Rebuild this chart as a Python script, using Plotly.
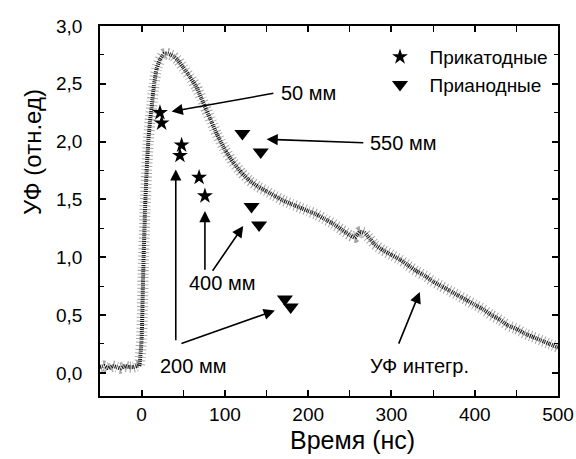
import plotly.graph_objects as go

# ---- data ----
t_curve = [-50, -45, -40, -35, -30, -25, -20, -15, -10, -5, -3, 0, 2, 4, 6, 8, 10, 12, 15, 18,
           22, 27, 32, 38, 44, 50, 58, 66, 72, 78, 84, 90, 100, 110, 120, 130, 140, 150, 160,
           170, 180, 190, 200, 210, 220, 230, 240, 250, 256, 262, 268, 274, 280, 290, 300, 310,
           320, 330, 340, 350, 360, 370, 380, 390, 400, 410, 420, 430, 440, 450, 460, 470, 480,
           490, 500]
uf_curve = [0.05, 0.06, 0.04, 0.06, 0.05, 0.04, 0.06, 0.05, 0.05, 0.06, 0.06, 0.30, 0.90, 1.40,
            1.75, 2.00, 2.17, 2.30, 2.50, 2.63, 2.71, 2.76, 2.76, 2.74, 2.70, 2.64, 2.56, 2.47,
            2.37, 2.27, 2.17, 2.07, 1.93, 1.82, 1.73, 1.66, 1.61, 1.57, 1.53, 1.49, 1.46, 1.43,
            1.40, 1.37, 1.33, 1.29, 1.24, 1.19, 1.17, 1.22, 1.21, 1.16, 1.11, 1.06, 1.02, 0.98,
            0.93, 0.88, 0.84, 0.79, 0.75, 0.71, 0.67, 0.63, 0.59, 0.55, 0.50, 0.46, 0.41, 0.38,
            0.34, 0.31, 0.28, 0.25, 0.22]

cath_t = [22, 24, 48, 46, 69, 76]
cath_uf = [2.25, 2.16, 1.97, 1.88, 1.69, 1.53]

anod_t = [121, 143, 132, 141, 172, 179]
anod_uf = [2.07, 1.91, 1.44, 1.28, 0.64, 0.57]

series_names = ["Прикатодные", "Прианодные"]

x_ticks = [0, 100, 200, 300, 400, 500]
y_ticks = [0.0, 0.5, 1.0, 1.5, 2.0, 2.5, 3.0]
x_range = [-50, 500]
y_range = [-0.2, 3.0]

# arrows: (head_x, head_y, tail_x, tail_y)
arrows = [
    (36, 2.26, 160, 2.42),     # 50 мм
    (150, 2.02, 268, 1.99),    # 550 мм
    (41, 1.76, 41, 0.27),      # 200 мм vertical
    (160, 0.54, 46, 0.25),     # 200 мм diagonal
    (76, 1.40, 76, 0.88),      # 400 мм vertical
    (122, 1.27, 84, 0.87),     # 400 мм diagonal
    (334, 0.70, 308, 0.24),    # УФ интегр.
]
# labels: (text, x, y, anchor)
labels = [
    ("50 мм", 165, 2.42, "left"),
    ("550 мм", 272, 1.99, "left"),
    ("200 мм", 62, 0.06, "center"),
    ("400 мм", 97, 0.78, "center"),
    ("УФ интегр.", 334, 0.06, "center"),
]

FONT = "Liberation Sans, Arial, sans-serif"

fig = go.Figure()
# scattered halo of the noisy record
fig.add_trace(go.Scatter(
    x=t_curve, y=uf_curve, mode="lines", showlegend=False,
    line=dict(color="rgba(0,0,0,0.35)", width=11, dash="1px,2.6px", shape="spline", smoothing=0.4),
))
# dense core
fig.add_trace(go.Scatter(
    x=t_curve, y=uf_curve, mode="lines", showlegend=False,
    line=dict(color="rgba(0,0,0,0.9)", width=4, dash="1px,1px", shape="spline", smoothing=0.4),
))
fig.add_trace(go.Scatter(
    x=cath_t, y=cath_uf, mode="markers", name="\u2002" + series_names[0],
    marker=dict(symbol="star", size=12, color="black", line=dict(width=0)),
))
fig.add_trace(go.Scatter(
    x=anod_t, y=anod_uf, mode="markers", name="\u2002" + series_names[1],
    marker=dict(symbol="triangle-down", size=14, color="black", line=dict(width=0)),
))

for hx, hy, tx, ty in arrows:
    fig.add_annotation(
        x=hx, y=hy, ax=tx, ay=ty, xref="x", yref="y", axref="x", ayref="y",
        text="", showarrow=True, arrowhead=2, arrowsize=1.4, arrowwidth=1.6,
        arrowcolor="black", standoff=0, startstandoff=0,
    )
for txt, x, y, anc in labels:
    fig.add_annotation(
        x=x, y=y, xref="x", yref="y", text=txt, showarrow=False,
        xanchor=anc, yanchor="middle", font=dict(family=FONT, size=20, color="black"),
    )

# axis titles
fig.add_annotation(x=(352 - 100) / 458, y=-(440 - 396) / 370, xref="paper", yref="paper",
                   text="Время (нс)", showarrow=False, xanchor="center", yanchor="middle",
                   font=dict(family=FONT, size=25, color="black"))
fig.add_annotation(x=-(100 - 32) / 458, y=1 - (152 - 26) / 370, xref="paper", yref="paper",
                   text="УФ (отн.ед)", showarrow=False, textangle=-90,
                   xanchor="center", yanchor="middle",
                   font=dict(family=FONT, size=24, color="black"))

tickfont = dict(family=FONT, size=19, color="black")
fig.update_xaxes(
    range=x_range, tickvals=x_ticks, showgrid=False, zeroline=False,
    showline=True, linecolor="black", linewidth=1.5, mirror="allticks",
    ticks="inside", ticklen=6, tickwidth=1.5, tickcolor="black", tickfont=tickfont,
    minor=dict(dtick=50, tick0=0, ticks="inside", ticklen=4, tickcolor="black", tickwidth=1.2),
)
# primary y axis: carries the labels (pushed out by transparent outside ticks)
fig.update_yaxes(
    range=y_range, tickvals=y_ticks, tickformat=".1f", showgrid=False, zeroline=False,
    showline=True, linecolor="black", linewidth=1.5, mirror=True,
    ticks="outside", ticklen=12, tickcolor="rgba(0,0,0,0)", tickfont=tickfont,
)
# overlay y axis: draws the inward ticks on both sides
fig.update_layout(yaxis2=dict(
    overlaying="y", side="left", range=y_range, tickvals=y_ticks, showticklabels=False,
    showgrid=False, zeroline=False, showline=False, mirror="allticks",
    ticks="inside", ticklen=6, tickwidth=1.5, tickcolor="black",
    minor=dict(dtick=0.25, tick0=0, ticks="inside", ticklen=4, tickcolor="black", tickwidth=1.2),
))
fig.add_trace(go.Scatter(x=[None], y=[None], yaxis="y2", showlegend=False, hoverinfo="skip"))

fig.update_layout(
    width=576, height=459,
    margin=dict(l=100, r=18, t=26, b=63, autoexpand=False),
    paper_bgcolor="white", plot_bgcolor="white",
    separators=", ",
    font=dict(family=FONT, color="black"),
    legend=dict(x=(380 - 100) / 458, y=1 - (38 - 26) / 370, xanchor="left", yanchor="top",
                bgcolor="rgba(0,0,0,0)", font=dict(family=FONT, size=19, color="black"),
                tracegroupgap=0),
)

fig.write_html("out.html")
